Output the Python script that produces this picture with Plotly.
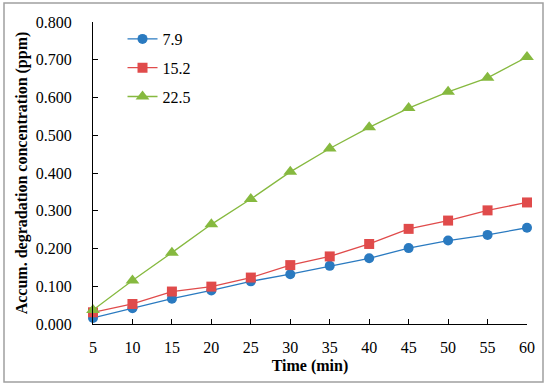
import plotly.graph_objects as go

time_min = [5, 10, 15, 20, 25, 30, 35, 40, 45, 50, 55, 60]
series_names = ["7.9", "15.2", "22.5"]
s_79 = [0.016, 0.042, 0.067, 0.089, 0.113, 0.132, 0.154, 0.174, 0.201, 0.221, 0.236, 0.255]
s_152 = [0.031, 0.053, 0.086, 0.099, 0.123, 0.156, 0.179, 0.212, 0.252, 0.274, 0.301, 0.322]
s_225 = [0.037, 0.115, 0.189, 0.264, 0.331, 0.403, 0.465, 0.521, 0.572, 0.615, 0.652, 0.707]
y_ticks = [0.0, 0.1, 0.2, 0.3, 0.4, 0.5, 0.6, 0.7, 0.8]

colors = ["#2A7AC0", "#E04B4B", "#86B93F"]
symbols = ["circle", "square", "triangle-up"]
sizes = [10, 10, 12]
data = [s_79, s_152, s_225]

FONT = "Liberation Serif"

fig = go.Figure()
for name, ys, c, sym, sz in zip(series_names, data, colors, symbols, sizes):
    fig.add_trace(go.Scatter(
        x=time_min, y=ys, name=name, mode="lines+markers",
        line=dict(color=c, width=1.3),
        marker=dict(symbol=sym, size=sz, color=c),
        cliponaxis=False, legendgroup=name,
    ))

fig.update_layout(
    width=550, height=387,
    margin=dict(l=93, r=23, t=22, b=63),
    paper_bgcolor="white", plot_bgcolor="white",
    font=dict(family=FONT, size=16, color="black"),
    showlegend=True,
    legend=dict(x=0.068, y=1.0, xanchor="left", yanchor="top",
                font=dict(size=16), tracegroupgap=5,
                bgcolor="rgba(0,0,0,0)", itemwidth=30),
    xaxis=dict(
        range=[5, 60], tickmode="array", tickvals=time_min,
        ticktext=[str(t) for t in time_min],
        showline=True, linecolor="black", linewidth=1.3,
        ticks="inside", ticklen=5, tickcolor="black",
        showgrid=False, zeroline=False, automargin=False,
        tickfont=dict(size=16), ticklabelstandoff=9,
        title=dict(text="<b>Time (min)</b>", font=dict(size=16), standoff=4),
    ),
    yaxis=dict(
        range=[0, 0.8], tickmode="array", tickvals=y_ticks,
        ticktext=[f"{v:.3f}" for v in y_ticks],
        showline=True, linecolor="black", linewidth=1.3,
        ticks="inside", ticklen=5, tickcolor="black",
        showgrid=False, zeroline=False, automargin=False,
        tickfont=dict(size=16), ticklabelstandoff=17,
        title=dict(text="<b>Accum. degradation concentration (ppm)</b>", font=dict(size=16), standoff=4),
    ),
)

# outer border of chart
fig.add_shape(type="rect", xref="paper", yref="paper",
              x0=-(93 - 4) / 434, x1=1 + (543 - 527) / 434,
              y0=-(382 - 324) / 302, y1=1 + (22 - 3) / 302,
              line=dict(color="#A0A0A0", width=1.5), layer="below")

fig.write_html("out.html", config={"displayModeBar": False},
               post_script="document.body.style.margin='0px';document.body.style.padding='0px';")
